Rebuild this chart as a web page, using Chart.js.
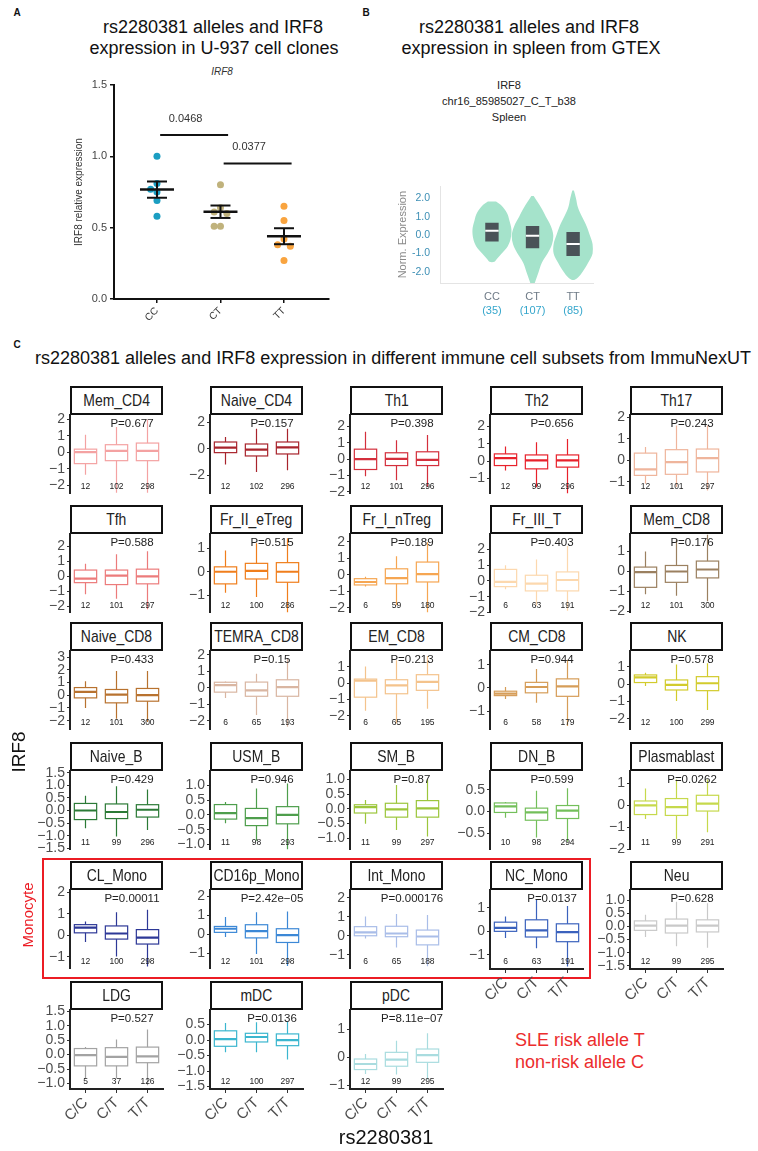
<!DOCTYPE html>
<html>
<head>
<meta charset="utf-8">
<title>rs2280381 alleles and IRF8 expression</title>
<script src="https://cdn.jsdelivr.net/npm/chart.js@4.4.1/dist/chart.umd.min.js"></script>
<style>
  body { margin: 0; background: #fff; }
  #page { position: relative; width: 758px; height: 1151px; overflow: hidden; background: #fff; font-family: 'Liberation Sans', Arial, sans-serif; color: #111; }
  #page canvas { position: absolute; }
  .lbl { position: absolute; white-space: nowrap; line-height: 1; }
  .strip { position: absolute; box-sizing: border-box; width: 93px; height: 29px; border: 2.5px solid #111; background: #fff; display: flex; justify-content: center; align-items: center; font-size: 17px; color: #222; white-space: nowrap; }
  .strip span { display: inline-block; flex: none; transform: scaleX(0.82); transform-origin: center; }
  #monoBox { position: absolute; left: 42px; top: 858px; width: 549px; height: 121px; box-sizing: border-box; border: 2px solid #ec1c24; }
</style>
</head>
<body>
<div id="page"><div id="monoBox"></div></div>
<script>
// Panel A: U-937 cell clones
const genotypes = ['CC', 'CT', 'TT'];
const cloneCC = [1.00, 0.81, 0.77, 0.75, 0.69, 0.58];
const cloneCT = [0.80, 0.64, 0.61, 0.60, 0.51, 0.51];
const cloneTT = [0.65, 0.55, 0.42, 0.38, 0.37, 0.27];
const cloneTicks = [0, 0.5, 1.0, 1.5];
const clonePairs = [[0, 1], [1, 2]];
const clonePValues = ['0.0468', '0.0377'];

// Panel B: GTEx spleen
const gtexCounts = [35, 107, 85];
const gtexTicks = [-2, -1, 0, 1, 2];
const gtexQ1 = [-0.35, -0.72, -1.13];
const gtexMedian = [0.23, -0.03, -0.48];
const gtexQ3 = [0.67, 0.50, 0.17];
// violin outline as [expression level, half width]
const violinCC = [[1.83, 0.10], [1.6, 0.24], [1.2, 0.37], [0.8, 0.43], [0.3, 0.48], [-0.2, 0.46], [-0.6, 0.39], [-1.0, 0.24], [-1.3, 0.12], [-1.45, 0.06]];
const violinCT = [[2.13, 0.03], [1.5, 0.21], [1.0, 0.33], [0.5, 0.45], [0.0, 0.51], [-0.5, 0.48], [-1.0, 0.37], [-1.5, 0.23], [-2.0, 0.15], [-2.5, 0.07], [-2.75, 0.02]];
const violinTT = [[2.42, 0.02], [2.0, 0.07], [1.5, 0.12], [1.0, 0.22], [0.5, 0.33], [0.0, 0.41], [-0.5, 0.48], [-1.0, 0.48], [-1.5, 0.37], [-2.0, 0.23], [-2.3, 0.12], [-2.42, 0.04]];

// Panel C: ImmuNexUT subsets
const alleleLabels = ['C/C', 'C/T', 'T/T'];
const subsets = ['Mem_CD4', 'Naive_CD4', 'Th1', 'Th2', 'Th17',
  'Tfh', 'Fr_II_eTreg', 'Fr_I_nTreg', 'Fr_III_T', 'Mem_CD8',
  'Naive_CD8', 'TEMRA_CD8', 'EM_CD8', 'CM_CD8', 'NK',
  'Naive_B', 'USM_B', 'SM_B', 'DN_B', 'Plasmablast',
  'CL_Mono', 'CD16p_Mono', 'Int_Mono', 'NC_Mono', 'Neu',
  'LDG', 'mDC', 'pDC'];
const subsetPValues = ['P=0.677', 'P=0.157', 'P=0.398', 'P=0.656', 'P=0.243',
  'P=0.588', 'P=0.515', 'P=0.189', 'P=0.403', 'P=0.176',
  'P=0.433', 'P=0.15', 'P=0.213', 'P=0.944', 'P=0.578',
  'P=0.429', 'P=0.946', 'P=0.87', 'P=0.599', 'P=0.0262',
  'P=0.00011', 'P=2.42e\u221205', 'P=0.000176', 'P=0.0137', 'P=0.628',
  'P=0.527', 'P=0.0136', 'P=8.11e\u221207'];
const subsetCounts = [[12, 102, 298], [12, 102, 296], [12, 101, 296], [12, 99, 296], [12, 101, 297],
  [12, 101, 297], [12, 100, 286], [6, 59, 180], [6, 63, 191], [12, 101, 300],
  [12, 101, 300], [6, 65, 193], [6, 65, 195], [6, 58, 179], [12, 100, 299],
  [11, 99, 296], [11, 98, 293], [11, 99, 297], [10, 98, 294], [11, 99, 291],
  [12, 100, 298], [12, 101, 298], [6, 65, 188], [6, 63, 191], [12, 99, 295],
  [5, 37, 126], [12, 100, 297], [12, 99, 295]];
// [min, q1, median, q3, max] for C/C, C/T, T/T
const subsetStats = [
  [[-1.35, -0.68, 0.02, 0.20, 1.07], [-2.45, -0.50, 0.10, 0.47, 1.54], [-2.45, -0.50, 0.10, 0.57, 2.00]],
  [[-1.20, -0.30, 0.07, 0.50, 0.87], [-1.75, -0.55, -0.07, 0.35, 1.50], [-1.63, -0.40, 0.10, 0.50, 1.50]],
  [[-1.04, -0.63, 0.00, 0.61, 1.67], [-1.29, -0.39, 0.02, 0.39, 1.16], [-1.69, -0.39, -0.04, 0.45, 1.47]],
  [[-0.54, -0.25, 0.18, 0.42, 0.84], [-1.49, -0.44, 0.05, 0.36, 1.09], [-1.86, -0.34, 0.05, 0.36, 1.28]],
  [[-1.09, -0.70, -0.42, 0.34, 0.62], [-1.24, -0.65, -0.08, 0.50, 1.63], [-1.40, -0.54, 0.11, 0.53, 1.63]],
  [[-1.20, -0.42, -0.15, 0.42, 0.84], [-1.50, -0.55, 0.05, 0.42, 1.47], [-2.20, -0.50, 0.00, 0.48, 1.68]],
  [[-0.90, -0.52, 0.00, 0.21, 0.91], [-1.08, -0.31, 0.04, 0.36, 1.22], [-1.75, -0.45, 0.00, 0.39, 1.44]],
  [[-0.72, -0.62, -0.44, -0.24, -0.12], [-1.86, -0.55, -0.20, 0.36, 1.13], [-2.30, -0.44, 0.04, 0.77, 1.98]],
  [[-0.52, -0.36, -0.06, 0.73, 0.99], [-1.57, -0.63, -0.17, 0.36, 1.36], [-1.89, -0.63, 0.06, 0.57, 2.20]],
  [[-1.13, -0.79, -0.03, 0.22, 1.00], [-1.21, -0.54, 0.00, 0.30, 1.57], [-1.48, -0.32, 0.10, 0.52, 1.85]],
  [[-1.00, -0.21, 0.26, 0.60, 1.10], [-1.84, -0.60, 0.05, 0.45, 1.90], [-2.10, -0.47, 0.00, 0.53, 1.90]],
  [[-0.62, -0.27, 0.15, 0.33, 0.38], [-1.66, -0.52, -0.16, 0.34, 0.84], [-2.36, -0.52, 0.04, 0.48, 1.74]],
  [[-1.70, -0.86, 0.15, 0.25, 1.03], [-2.47, -0.65, -0.13, 0.21, 1.40], [-1.57, -0.44, 0.08, 0.52, 1.66]],
  [[-0.47, -0.33, -0.24, -0.14, 0.04], [-0.64, -0.21, 0.04, 0.24, 0.81], [-1.64, -0.36, 0.07, 0.39, 1.21]],
  [[-0.10, 0.10, 0.40, 0.54, 0.67], [-0.96, -0.33, -0.04, 0.25, 1.15], [-1.48, -0.37, 0.06, 0.44, 1.21]],
  [[-0.70, -0.36, 0.00, 0.28, 0.58], [-1.03, -0.32, -0.06, 0.26, 0.96], [-0.77, -0.26, 0.03, 0.23, 0.83]],
  [[-0.28, -0.14, 0.06, 0.35, 0.44], [-0.87, -0.36, -0.11, 0.22, 0.89], [-1.17, -0.30, 0.00, 0.28, 1.06]],
  [[-0.50, -0.14, 0.06, 0.14, 0.30], [-0.72, -0.28, -0.02, 0.19, 0.81], [-0.94, -0.28, 0.02, 0.28, 1.00]],
  [[-0.14, -0.02, 0.12, 0.20, 0.22], [-0.60, -0.20, -0.02, 0.08, 0.48], [-0.70, -0.16, 0.02, 0.14, 0.54]],
  [[-0.62, -0.42, 0.00, 0.20, 0.77], [-1.54, -0.46, -0.08, 0.31, 1.18], [-1.23, -0.26, 0.08, 0.46, 1.18]],
  [[-0.31, 0.11, 0.35, 0.49, 0.64], [-0.99, -0.18, 0.08, 0.43, 1.07], [-1.45, -0.41, -0.11, 0.26, 1.18]],
  [[-0.14, 0.10, 0.29, 0.41, 0.90], [-1.03, -0.19, 0.16, 0.50, 1.16], [-1.66, -0.43, -0.05, 0.29, 1.19]],
  [[-0.14, 0.00, 0.18, 0.48, 1.01], [-0.62, -0.05, 0.12, 0.50, 1.15], [-1.60, -0.48, -0.04, 0.30, 1.10]],
  [[-0.28, 0.00, 0.15, 0.39, 0.63], [-0.72, -0.24, 0.04, 0.49, 1.36], [-1.49, -0.44, -0.03, 0.32, 1.08]],
  [[-0.40, -0.15, 0.03, 0.21, 0.44], [-0.75, -0.25, 0.03, 0.28, 0.94], [-0.81, -0.21, 0.03, 0.25, 0.88]],
  [[-0.83, -0.39, -0.02, 0.21, 0.26], [-0.83, -0.39, -0.08, 0.24, 0.52], [-1.06, -0.28, -0.06, 0.26, 0.87]],
  [[-0.39, -0.20, 0.03, 0.30, 0.55], [-0.39, -0.06, 0.10, 0.22, 0.58], [-0.63, -0.18, 0.00, 0.20, 0.60]],
  [[-0.60, -0.44, -0.24, -0.06, 0.12], [-0.62, -0.32, -0.08, 0.18, 0.60], [-0.80, -0.18, 0.08, 0.30, 0.87]]
];
const subsetRanges = [[-2.5, 2.25], [-3.38, 2.5], [-2.1, 2.67], [-1.86, 2.63], [-1.55, 2.1],
  [-2.42, 2.8], [-1.75, 1.6], [-2.3, 2.45], [-2.0, 2.94], [-2.05, 1.85],
  [-2.7, 3.44], [-2.54, 2.2], [-2.85, 1.95], [-1.79, 1.57], [-2.62, 1.9],
  [-1.55, 1.55], [-1.17, 1.47], [-1.38, 1.27], [-0.88, 0.93], [-2.02, 1.55],
  [-1.55, 2.08], [-1.8, 2.3], [-1.73, 2.39], [-1.6, 1.74], [-1.62, 1.37],
  [-1.19, 1.53], [-1.58, 0.96], [-1.14, 1.69]];
const subsetTickSteps = [1, 2, 1, 1, 1,
  1, 1, 1, 1, 1,
  1, 1, 1, 1, 1,
  0.5, 0.5, 0.5, 0.5, 1,
  1, 1, 1, 1, 0.5,
  0.5, 0.5, 1];

// Styles
const SANS = "'Liberation Sans', Arial, sans-serif";
const cloneColors = ['#1b9ec2', '#c0b27c', '#f9a43f'];
const subsetColors = ['#f4a2a2', '#a8242c', '#d42f3c', '#e8212b', '#efb59c',
  '#ec7b7b', '#f07e1c', '#f6a652', '#fcd8ae', '#9b8060',
  '#b8722f', '#d9b6a2', '#f4c38c', '#d69d58', '#d2cb2c',
  '#2b7a36', '#4e9e4c', '#9cc63c', '#73bf5a', '#c6d94c',
  '#2d3897', '#3c88d6', '#a9bde8', '#3b62bd', '#c9c9c9',
  '#a3a3a3', '#3bb6cf', '#a9dcdf'];

Chart.defaults.font.family = SANS;

const page = document.getElementById('page');

function addLabel(text, x, y, css, opts = {}) {
  const el = document.createElement('div');
  el.className = 'lbl';
  el.textContent = text;
  Object.assign(el.style, css);
  el.style.left = x + 'px';
  el.style.top = y + 'px';
  const shift = opts.left ? 'translate(0, -50%)' : 'translate(-50%, -50%)';
  el.style.transform = shift + (opts.rotate ? ' rotate(-90deg)' : '');
  page.appendChild(el);
  return el;
}

function addCanvas(left, top, width, height) {
  const c = document.createElement('canvas');
  c.width = width;
  c.height = height;
  c.style.left = left + 'px';
  c.style.top = top + 'px';
  c.style.width = width + 'px';
  c.style.height = height + 'px';
  page.appendChild(c);
  return c;
}

function hline(ctx, x0, x1, y) {
  ctx.beginPath();
  ctx.moveTo(x0, y);
  ctx.lineTo(x1, y);
  ctx.stroke();
}

function vline(ctx, x, y0, y1) {
  ctx.beginPath();
  ctx.moveTo(x, y0);
  ctx.lineTo(x, y1);
  ctx.stroke();
}

// Headings
const titleCss = { fontSize: '18px', color: '#111' };
addLabel('A', 17, 13, { fontSize: '10px', fontWeight: 'bold' });
addLabel('B', 366, 13, { fontSize: '10px', fontWeight: 'bold' });
addLabel('C', 17, 345, { fontSize: '10px', fontWeight: 'bold' });
addLabel('rs2280381 alleles and IRF8', 213, 27, titleCss);
addLabel('expression in U-937 cell clones', 214, 48, titleCss);
addLabel('rs2280381 alleles and IRF8', 529, 27, titleCss);
addLabel('expression in spleen from GTEX', 531, 48, titleCss);
addLabel('IRF8', 222, 72, { fontSize: '10px', fontStyle: 'italic', color: '#333' });
addLabel('IRF8', 509, 85, { fontSize: '11px', color: '#222' });
addLabel('chr16_85985027_C_T_b38', 509, 101, { fontSize: '11px', color: '#222' });
addLabel('Spleen', 509, 117, { fontSize: '11px', color: '#222' });
addLabel('rs2280381 alleles and IRF8 expression in different immune cell subsets from ImmuNexUT', 393, 358, titleCss);

// ---------- Panel A ----------
function mean(a) {
  return a.reduce((s, v) => s + v, 0) / a.length;
}

function sem(a) {
  const m = mean(a);
  const sd = Math.sqrt(a.reduce((s, v) => s + (v - m) ** 2, 0) / (a.length - 1));
  return sd / Math.sqrt(a.length);
}

// push overlapping points sideways, like a bee swarm
function swarm(values, group) {
  const placed = [];
  const slots = [0, -1, 1, -2, 2];
  return values.map(v => {
    const slot = slots.find(s => !placed.some(p => p.s === s && Math.abs(p.v - v) < 0.05));
    placed.push({ v: v, s: slot });
    return { x: group + slot * 0.1, y: v };
  });
}

const cloneGroups = [cloneCC, cloneCT, cloneTT];

const cloneSummary = {
  id: 'cloneSummary',
  afterDatasetsDraw(chart, args, opts) {
    const { ctx, scales: { x, y } } = chart;
    ctx.save();
    ctx.strokeStyle = '#111';
    cloneGroups.forEach((vals, i) => {
      const cx = x.getPixelForValue(i);
      const m = mean(vals);
      const e = sem(vals);
      ctx.lineWidth = 2.5;
      hline(ctx, cx - 17, cx + 17, y.getPixelForValue(m));
      ctx.lineWidth = 2;
      hline(ctx, cx - 10, cx + 10, y.getPixelForValue(m + e));
      hline(ctx, cx - 10, cx + 10, y.getPixelForValue(m - e));
      vline(ctx, cx, y.getPixelForValue(m - e), y.getPixelForValue(m + e));
    });
    ctx.lineWidth = 2;
    ctx.fillStyle = '#333';
    ctx.font = '11px ' + SANS;
    ctx.textAlign = 'center';
    ctx.textBaseline = 'middle';
    clonePairs.forEach(([a, b], k) => {
      const yy = y.getPixelForValue(opts.levels[k]);
      hline(ctx, x.getPixelForValue(a + 0.05), x.getPixelForValue(b + 0.12), yy);
      ctx.fillText(clonePValues[k], x.getPixelForValue(a + 0.45), yy - 16);
    });
    ctx.restore();
  }
};

const aCanvas = addCanvas(0, 75, 339, 256);
new Chart(aCanvas, {
  type: 'scatter',
  data: {
    datasets: cloneGroups.map((vals, i) => ({
      data: swarm(vals, i),
      backgroundColor: cloneColors[i],
      borderWidth: 0,
      pointRadius: 3.5
    }))
  },
  options: {
    responsive: false,
    animation: false,
    devicePixelRatio: 1,
    layout: { padding: { left: 64, right: 10, top: 10, bottom: 2 } },
    plugins: {
      legend: { display: false },
      tooltip: { enabled: false },
      cloneSummary: { levels: [1.15, 0.95] }
    },
    scales: {
      x: {
        type: 'linear',
        min: -0.677,
        max: 2.709,
        afterBuildTicks: s => { s.ticks = genotypes.map((g, i) => ({ value: i })); },
        ticks: { callback: v => genotypes[v], autoSkip: false, minRotation: 45, maxRotation: 45, color: '#333', font: { size: 10 }, padding: 2 },
        grid: { drawOnChartArea: false, tickLength: 4, color: '#111', lineWidth: 1.5 },
        border: { color: '#111', width: 2 },
        afterFit: s => { s.height = 30; }
      },
      y: {
        min: 0,
        max: 1.5,
        afterBuildTicks: s => { s.ticks = cloneTicks.map(v => ({ value: v })); },
        ticks: { callback: v => v.toFixed(1), autoSkip: false, color: '#444', font: { size: 11 }, padding: 3 },
        grid: { drawOnChartArea: false, tickLength: 4, color: '#111', lineWidth: 1.5 },
        border: { color: '#111', width: 2 },
        title: { display: true, text: 'IRF8 relative expression', color: '#333', font: { size: 10 }, padding: { top: 9, bottom: 0 } },
        afterFit: s => { s.width = 50; }
      }
    }
  },
  plugins: [cloneSummary]
});

// ---------- Panel B ----------
const violinProfiles = [violinCC, violinCT, violinTT];
const BOX_HALF = 0.165;

function violinOutline(profile, c) {
  const left = profile.map(([lv, w]) => ({ x: c - w, y: lv }));
  const right = profile.slice().reverse().map(([lv, w]) => ({ x: c + w, y: lv }));
  return left.concat(right);
}

const gtexDatasets = [];
genotypes.forEach((g, i) => {
  gtexDatasets.push({
    data: [{ x: i - BOX_HALF, y: gtexMedian[i] }, { x: i + BOX_HALF, y: gtexMedian[i] }],
    showLine: true, borderColor: '#ffffff', borderWidth: 2, pointRadius: 0, order: 0
  });
  gtexDatasets.push({
    data: [{ x: i - BOX_HALF, y: gtexQ1[i] }, { x: i - BOX_HALF, y: gtexQ3[i] },
      { x: i + BOX_HALF, y: gtexQ3[i] }, { x: i + BOX_HALF, y: gtexQ1[i] }],
    showLine: true, fill: 'shape', backgroundColor: '#4a5358', borderColor: 'rgba(0,0,0,0)',
    borderWidth: 0, pointRadius: 0, order: 1
  });
  gtexDatasets.push({
    data: violinOutline(violinProfiles[i], i),
    showLine: true, fill: 'shape', backgroundColor: '#a5e3cb', borderColor: 'rgba(0,0,0,0)',
    borderWidth: 0, pointRadius: 0, tension: 0.35, order: 2
  });
});

const gtexLabels = {
  id: 'gtexLabels',
  afterDraw(chart) {
    const { ctx, chartArea, scales: { x } } = chart;
    ctx.save();
    ctx.textAlign = 'center';
    ctx.textBaseline = 'middle';
    ctx.font = '11px ' + SANS;
    genotypes.forEach((g, i) => {
      const cx = x.getPixelForValue(i);
      ctx.fillStyle = '#6f7b87';
      ctx.fillText(g, cx, chartArea.bottom + 14);
      ctx.fillStyle = '#35a6cc';
      ctx.fillText('(' + gtexCounts[i] + ')', cx, chartArea.bottom + 28);
    });
    ctx.restore();
  }
};

const bCanvas = addCanvas(380, 170, 225, 147);
new Chart(bCanvas, {
  type: 'scatter',
  data: { datasets: gtexDatasets },
  options: {
    responsive: false,
    animation: false,
    devicePixelRatio: 1,
    layout: { padding: { left: 0, right: 12, top: 8, bottom: 34 } },
    plugins: { legend: { display: false }, tooltip: { enabled: false } },
    scales: {
      x: {
        type: 'linear', min: -1.28, max: 2.49,
        ticks: { display: false },
        grid: { display: false, drawTicks: false },
        border: { color: '#e4e4e4' },
        afterFit: s => { s.height = 0; }
      },
      y: {
        min: -2.6, max: 2.65,
        afterBuildTicks: s => { s.ticks = gtexTicks.map(v => ({ value: v })); },
        ticks: { callback: v => v.toFixed(1), autoSkip: false, color: '#3d8fb5', font: { size: 10.5 }, padding: 10 },
        grid: { display: false, drawTicks: false },
        border: { color: '#e4e4e4' },
        title: { display: true, text: 'Norm. Expression', color: '#8a8a8a', font: { size: 11 }, padding: { top: 16, bottom: 0 } },
        afterFit: s => { s.width = 60; }
      }
    }
  },
  plugins: [gtexLabels]
});

// ---------- Panel C ----------
const boxWhisker = {
  id: 'boxWhisker',
  afterDatasetsDraw(chart, args, opts) {
    const { ctx, chartArea, scales: { x, y } } = chart;
    const half = chartArea.width / 3 * 0.36;
    ctx.save();
    ctx.beginPath();
    ctx.rect(chartArea.left, chartArea.top, chartArea.width, chartArea.height);
    ctx.clip();
    ctx.strokeStyle = opts.color;
    opts.stats.forEach((s, i) => {
      const cx = x.getPixelForValue(i);
      const [lo, q1, med, q3, hi] = s.map(v => y.getPixelForValue(v));
      ctx.lineWidth = 1.2;
      vline(ctx, cx, lo, hi);
      ctx.fillStyle = '#fff';
      ctx.fillRect(cx - half, q3, half * 2, q1 - q3);
      ctx.strokeRect(cx - half, q3, half * 2, q1 - q3);
      ctx.lineWidth = 2.2;
      hline(ctx, cx - half, cx + half, med);
    });
    ctx.restore();

    ctx.save();
    ctx.fillStyle = '#222';
    ctx.textAlign = 'center';
    ctx.textBaseline = 'middle';
    ctx.font = '8.5px ' + SANS;
    opts.counts.forEach((n, i) => {
      ctx.fillText(String(n), x.getPixelForValue(i), chartArea.bottom - 7);
    });
    ctx.font = '11.5px ' + SANS;
    ctx.fillText(opts.pValue, (x.getPixelForValue(1) + x.getPixelForValue(2)) / 2, chartArea.top + 8);
    ctx.restore();
  }
};

function tickText(v, step) {
  const body = step < 1 ? Math.abs(v).toFixed(1) : String(Math.abs(Math.round(v)));
  return (v < -1e-9 ? '\u2212' : '') + body;
}

const colX = [70, 210, 350, 490, 630];
const rowY = [386, 505, 622, 742, 861, 981];
const STRIP_H = 29;
const PLOT_W = 93;
const PLOT_H = 79;
const AXIS_W = 48;
const X_AXIS_H = 44;

subsets.forEach((name, k) => {
  const col = k % 5;
  const row = Math.floor(k / 5);
  const left = colX[col];
  const top = rowY[row];
  const isBottom = row === 5 || (row === 4 && col >= 3);

  const strip = document.createElement('div');
  strip.className = 'strip';
  const stripText = document.createElement('span');
  stripText.textContent = name;
  strip.appendChild(stripText);
  strip.style.left = left + 'px';
  strip.style.top = top + 'px';
  page.appendChild(strip);

  const padTop = 10;
  const padBottom = isBottom ? 2 : 10;
  const height = padTop + PLOT_H + padBottom + (isBottom ? X_AXIS_H : 0);
  const canvas = addCanvas(left - AXIS_W, top + STRIP_H - padTop, AXIS_W + PLOT_W + 4, height);
  const step = subsetTickSteps[k];
  const [yMin, yMax] = subsetRanges[k];

  new Chart(canvas, {
    type: 'line',
    data: { labels: alleleLabels, datasets: [] },
    options: {
      responsive: false,
      animation: false,
      devicePixelRatio: 1,
      layout: { padding: { left: 0, right: 4, top: padTop, bottom: padBottom } },
      plugins: {
        legend: { display: false },
        tooltip: { enabled: false },
        boxWhisker: { stats: subsetStats[k], counts: subsetCounts[k], pValue: subsetPValues[k], color: subsetColors[k] }
      },
      scales: {
        x: {
          type: 'category',
          offset: true,
          display: isBottom,
          ticks: { autoSkip: false, minRotation: 45, maxRotation: 45, color: '#4d4d4d', font: { size: 15 }, padding: 1 },
          grid: { drawOnChartArea: false, tickLength: 4, color: '#333', lineWidth: 1 },
          border: { color: '#222', width: 2 },
          afterFit: isBottom ? s => { s.height = X_AXIS_H; } : undefined
        },
        y: {
          min: yMin,
          max: yMax,
          ticks: { stepSize: step, includeBounds: false, autoSkip: false, callback: v => tickText(v, step), color: '#4d4d4d', font: { size: 14 }, padding: 2 },
          afterBuildTicks: s => {
            s.ticks = s.ticks.filter(t => Math.abs(t.value / step - Math.round(t.value / step)) < 1e-6 && t.value >= yMin && t.value <= yMax);
          },
          grid: { drawOnChartArea: false, tickLength: 3, color: '#333', lineWidth: 1 },
          border: { color: '#222', width: 2 },
          afterFit: s => { s.width = AXIS_W; }
        }
      }
    },
    plugins: [boxWhisker]
  });
});

// Panel C annotations
addLabel('IRF8', 18, 752, { fontSize: '19px', color: '#111' }, { rotate: true });
addLabel('rs2280381', 386, 1137, { fontSize: '20px', color: '#111' });
addLabel('Monocyte', 27, 915, { fontSize: '15px', color: '#ec1c24' }, { rotate: true });
addLabel('SLE risk allele T', 515, 1040, { fontSize: '18px', color: '#ec2d2d' }, { left: true });
addLabel('non-risk allele C', 515, 1062, { fontSize: '18px', color: '#ec2d2d' }, { left: true });
</script>
</body>
</html>
